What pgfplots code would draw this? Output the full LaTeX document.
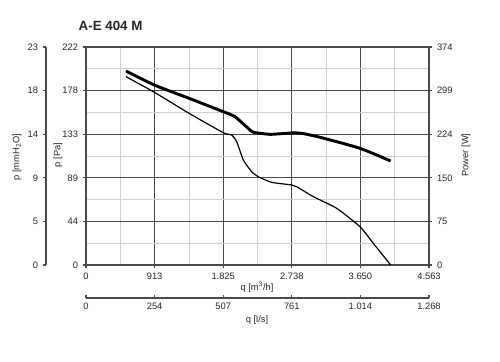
\documentclass[border=0pt]{standalone}
\usepackage{pgfplots}
\pgfplotsset{compat=1.18}
\usepackage{fontspec}
\setmainfont{Liberation Sans}
\definecolor{majgrid}{HTML}{4A4A4A}
\definecolor{mingrid}{HTML}{D0D0D0}
\definecolor{txt}{HTML}{262626}

\pgfplotstableread{
q p
532 191.8
909 175.9
1370 154.5
1827 134.7
1938 132.4
2005 125.6
2093 106.9
2204 95.0
2292 89.9
2470 84.2
2736 81.5
2803 79.7
3024 69.6
3335 57.7
3645 39.0
3822 22.1
4053 0
}\pressure

\pgfplotstableread{
q w
532 332.8
909 308.8
1370 286.0
1827 263.0
1982 254.4
2182 231.6
2226 227.7
2448 224.2
2736 226.5
2870 225.9
3113 219.1
3645 200.2
4053 178.4
}\power

\begin{document}
\begin{tikzpicture}[x=1pt,y=1pt]
\useasboundingbox (0,0) rectangle (375,270.75);
\pgfplotsset{every axis/.append style={
  scale only axis,
  font=\fontsize{7}{8}\selectfont,
  tick label style={text=txt},
  tick style={majgrid, line width=0.8pt},
  axis line style={majgrid, line width=1pt},
  major tick length=2.5pt,
  minor tick length=0pt,
}}
% main pressure axis
\begin{axis}[at={(64.5pt,72pt)}, anchor=south west, width=257.25pt, height=163.5pt,
  xmin=0, xmax=4563, ymin=0, ymax=222,
  xtick={0,912.6,1825.2,2737.8,3650.4,4563}, xticklabels={0,913,1.825,2.738,3.650,4.563},
  ytick={0,44.4,88.8,133.2,177.6,222}, yticklabels={0,44,89,133,178,222},
  minor xtick={456.3,1368.9,2281.5,3194.1,4106.7},
  minor ytick={22.2,66.6,111,155.4,199.8},
  grid=both,
  major grid style={majgrid, line width=0.9pt},
  minor grid style={mingrid, line width=0.6pt},
  xtick pos=bottom, ytick pos=left, tick align=outside,
]
\addplot[black, line width=0.9pt, smooth, tension=0.35] table[x=q,y=p] {\pressure};
\end{axis}
% power axis
\begin{axis}[at={(64.5pt,72pt)}, anchor=south west, width=257.25pt, height=163.5pt,
  xmin=0, xmax=4563, ymin=0, ymax=374,
  hide x axis, axis y line*=right,
  ytick={0,74.8,149.6,224.4,299.2,374}, yticklabels={0,75,150,224,299,374},
  tick align=outside,
]
\addplot[black, line width=2.2pt, smooth, tension=0.35] table[x=q,y=w] {\power};
\end{axis}
% mmH2O axis
\begin{axis}[at={(34.5pt,72pt)}, anchor=south west, width=1pt, height=163.5pt,
  xmin=0, xmax=1, ymin=0, ymax=222,
  hide x axis, axis y line*=left,
  ytick={0,44.4,88.8,133.2,177.6,222}, yticklabels={0,5,9,14,18,23},
  tick align=outside,
]
\end{axis}
% l/s axis
\begin{axis}[at={(64.5pt,47.25pt)}, anchor=south west, width=257.25pt, height=1pt,
  xmin=0, xmax=1267.5, ymin=0, ymax=1,
  hide y axis, axis x line*=bottom,
  xtick={0,253.5,507,760.5,1014,1267.5}, xticklabels={0,254,507,761,1.014,1.268},
  tick align=inside,
]
\end{axis}
\node[anchor=west, font=\bfseries\fontsize{10}{12}\selectfont, text=txt] at (55.5,251.25) {A-E 404 M};
\node[font=\fontsize{7}{8}\selectfont, text=txt] at (192.75,55.5) {q [m\textsuperscript{3}/h]};
\node[font=\fontsize{7}{8}\selectfont, text=txt] at (192.75,30.75) {q [l/s]};
\node[font=\fontsize{7}{8}\selectfont, text=txt, rotate=90] at (43.5,154.5) {p [Pa]};
\node[font=\fontsize{7}{8}\selectfont, text=txt, rotate=90] at (12.75,153) {p [mmH\textsubscript{2}O]};
\node[font=\fontsize{7}{8}\selectfont, text=txt, rotate=90] at (349.5,154.5) {Power [W]};
\end{tikzpicture}
\end{document}
